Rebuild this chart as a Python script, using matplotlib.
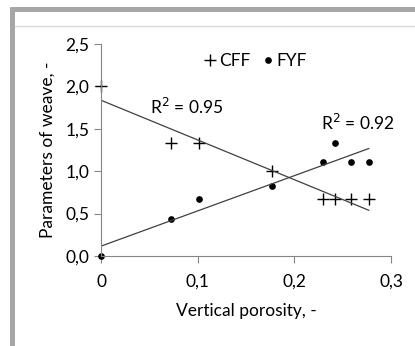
import numpy as np
import matplotlib.pyplot as plt
from matplotlib.patches import Rectangle
from matplotlib.lines import Line2D

plt.rcParams['font.family'] = ['Lato', 'DejaVu Sans']

porosity = [0, 0.072, 0.101, 0.177, 0.230, 0.242, 0.259, 0.277]
cff = [2.0, 1.333, 1.333, 1.0, 0.667, 0.667, 0.667, 0.667]
fyf = [0.0, 0.434, 0.670, 0.828, 1.104, 1.329, 1.104, 1.104]
yticks = [0, 0.5, 1.0, 1.5, 2.0, 2.5]
xticks = [0, 0.1, 0.2, 0.3]
xlabels = ["0", "0,1", "0,2", "0,3"]

W, H = 415, 346
fs = 12.5
fig = plt.figure(figsize=(W/100, H/100), dpi=100)

# grey frame (as in the pasted excel chart)
fig.add_artist(Rectangle((10/W, 0), 5/W, (H-7)/H, transform=fig.transFigure, color="#a6a6a6", lw=0))
fig.add_artist(Rectangle((10/W, (H-12)/H), 1, 5/H, transform=fig.transFigure, color="#a6a6a6", lw=0))
fig.add_artist(Line2D([15/W, 1], [(H-26)/H]*2, transform=fig.transFigure, color="#d9d9d9", lw=1))

ax = fig.add_axes([101/W, (H-256)/H, 290/W, 212/H])

ax.plot(porosity, cff, "+", color="black", markersize=9, markeredgewidth=1, label="CFF", clip_on=False)
ax.plot(porosity, fyf, "o", color="black", markersize=3.8, label="FYF", clip_on=False)

# linear trendlines
xs = np.array([0, max(porosity)])
for ys in (cff, fyf):
    k, b = np.polyfit(porosity, ys, 1)
    ax.plot(xs, k*xs + b, color="#404040", lw=0.9)

ax.text(0.089, 1.76, "R$^2$ = 0.95", ha="center", va="center", fontsize=fs)
ax.text(0.2655, 1.565, "R$^2$ = 0.92", ha="center", va="center", fontsize=fs)

ax.legend(loc="center", bbox_to_anchor=(0.53, 0.92), ncol=2, frameon=False, fontsize=fs,
          handletextpad=0.05, columnspacing=0.6, handlelength=0.9)

ax.set_xlim(0, 0.3)
ax.set_ylim(0, 2.5)
ax.set_yticks(yticks)
ax.set_yticklabels([f"{v:.1f}".replace(".", ",") for v in yticks])
ax.set_xticks(xticks)
ax.set_xticklabels(xlabels)
for s in ["top", "right"]:
    ax.spines[s].set_visible(False)
for s in ["left", "bottom"]:
    ax.spines[s].set_color("#868686")
ax.tick_params(colors="#868686", labelcolor="black", labelsize=fs, length=5, width=0.8)
ax.tick_params(axis="x", pad=8)
ax.set_xlabel("Vertical porosity, -", fontsize=fs, labelpad=9)
ax.set_ylabel("Parameters of weave, -", fontsize=fs, labelpad=7)

plt.savefig("out.png", dpi=100)
